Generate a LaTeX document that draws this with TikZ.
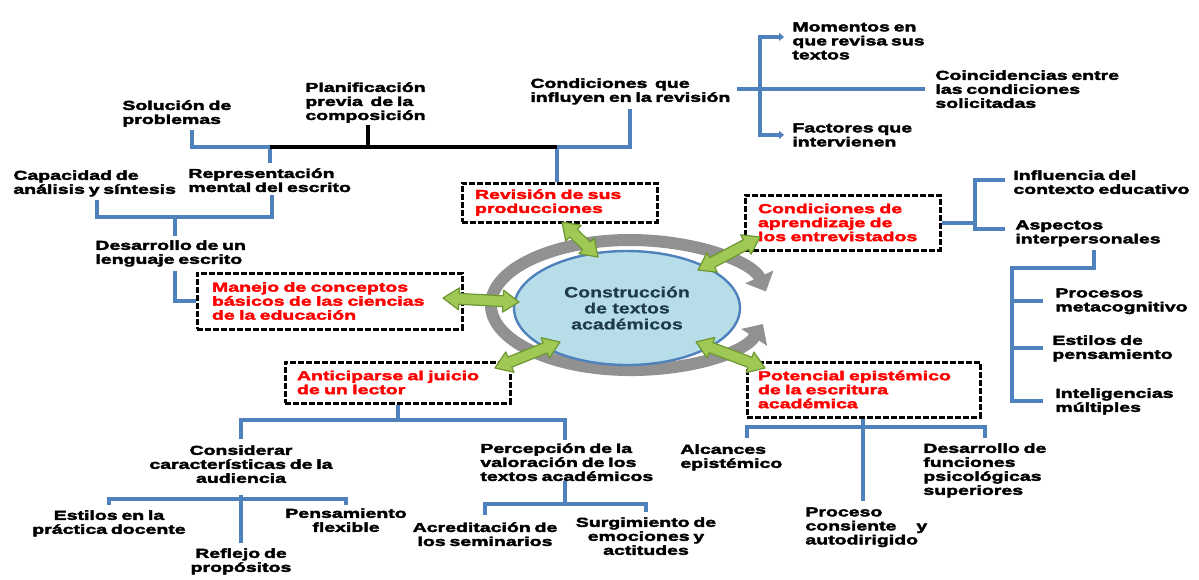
\documentclass[tikz,border=0pt]{standalone}
\usepackage{fontspec}
\newfontfamily\heavy{Liberation Sans Bold}[FakeStretch=1.5,FakeBold=3,WordSpace=0.7]
\newfontfamily\centerfont{Liberation Sans Bold}[FakeStretch=1.3,FakeBold=0.6]
\usetikzlibrary{calc,arrows.meta,shapes.geometric}
\definecolor{bluel}{RGB}{79,129,189}
\definecolor{ellfill}{RGB}{183,222,232}
\definecolor{gfill}{RGB}{160,200,85}
\definecolor{gdraw}{RGB}{110,150,50}
\definecolor{ringc}{RGB}{145,145,145}
\definecolor{ctext}{RGB}{31,58,74}
\newcommand\garr[2]{%
  \path[garrow] (#1)
   -- ($(#1)!8pt!(#2)!5.5pt!90:(#2)$) -- ($(#1)!8pt!(#2)!2.7pt!90:(#2)$)
   -- ($(#2)!8pt!(#1)!2.7pt!-90:(#1)$) -- ($(#2)!8pt!(#1)!5.5pt!-90:(#1)$)
   -- (#2)
   -- ($(#2)!8pt!(#1)!5.5pt!90:(#1)$) -- ($(#2)!8pt!(#1)!2.7pt!90:(#1)$)
   -- ($(#1)!8pt!(#2)!2.7pt!-90:(#2)$) -- ($(#1)!8pt!(#2)!5.5pt!-90:(#2)$)
   -- cycle;}
\tikzset{
  lbl/.style={inner sep=0pt, align=left, anchor=north west, font=\heavy\fontsize{6.5}{7}\selectfont},
  lblc/.style={lbl, align=center, anchor=north},
  redbox/.style={draw=black, line width=1.5pt, dash pattern=on 3pt off 1pt, text=red,
    align=left, inner ysep=0pt, font=\heavy\fontsize{6.5}{7}\selectfont},
  bl/.style={draw=bluel, line width=2pt},
  blk/.style={draw=black, line width=2pt},
  stub/.style={bl, -{Triangle[length=2.5pt,width=4pt]}},
  garrow/.style={fill=gfill, draw=gdraw, line width=0.6pt, line join=round},
  ringarc/.style={draw=ringc, line width=6pt, -{Triangle[length=8pt,width=15pt]}},
  centre/.style={ellipse, draw=bluel, line width=1.2pt, fill=ellfill, minimum width=113pt,
    minimum height=57pt, inner sep=0pt, align=center, text=ctext,
    font=\centerfont\fontsize{7.5}{8}\selectfont}
}
\begin{document}
\begin{tikzpicture}[x=0.5pt,y=-0.5pt]
\fill[white] (0,0) rectangle (1199,579);
\useasboundingbox (0,0) rectangle (1199,579);

% ---------- text nodes ----------
\node[lbl] (plan) at (305,82) {Planificación\\previa\ \ de la\\composición};
\node[lbl] (sol) at (122,100) {Solución de\\problemas};
\node[lbl] (cond) at (530,78) {Condiciones\ \ que\\influyen en la revisión};
\node[lbl] (mom) at (792,22) {Momentos en\\que revisa sus\\textos};
\node[lbl] (coin) at (935,70) {Coincidencias entre\\las condiciones\\solicitadas};
\node[lbl] (fact) at (792,123) {Factores que\\intervienen};
\node[lbl] (cap) at (13,170) {Capacidad de\\análisis y síntesis};
\node[lbl] (rep) at (188,168) {Representación\\mental del escrito};
\node[lbl] (des) at (95,240) {Desarrollo de un\\lenguaje escrito};
\node[lbl] (inf) at (1013,170) {Influencia del\\contexto educativo};
\node[lbl] (asp) at (1015,220) {Aspectos\\interpersonales};
\node[lbl] (proc) at (1055,288) {Procesos\\metacognitivo};
\node[lbl] (est) at (1052,335) {Estilos de\\pensamiento};
\node[lbl] (int) at (1055,388) {Inteligencias\\múltiples};
\node[lblc] (consid) at (241,445) {Considerar\\características de la\\audiencia};
\node[lbl] (perc) at (480,443) {Percepción de la\\valoración de los\\textos académicos};
\node[lbl] (alc) at (680,444) {Alcances\\epistémico};
\node[lbl] (desf) at (923,443) {Desarrollo de\\funciones\\psicológicas\\superiores};
\node[lblc] (estp) at (109,510) {Estilos en la\\práctica docente};
\node[lblc] (pens) at (346,508) {Pensamiento\\flexible};
\node[lblc] (refl) at (241,548) {Reflejo de\\propósitos};
\node[lblc] (acr) at (485,522) {Acreditación de\\los seminarios};
\node[lblc] (surg) at (646,517) {Surgimiento de\\emociones y\\actitudes};
\node[lbl] (proc2) at (805,507) {Proceso\\consiente\hspace{10pt}y\\autodirigido};

% ---------- red dashed boxes ----------
\node[redbox, minimum width=97.5pt, minimum height=19.5pt, inner xsep=6.5pt, text width=84.5pt]
  (rev) at (559.5,202.5) {Revisión de sus\\producciones};
\node[redbox, minimum width=97.5pt, minimum height=27.5pt, inner xsep=6.5pt, text width=84.5pt]
  (apr) at (842.5,222.5) {Condiciones de\\aprendizaje de\\los entrevistados};
\node[redbox, minimum width=132.5pt, minimum height=28pt, inner xsep=7.5pt, text width=117.5pt]
  (man) at (329.5,301) {Manejo de conceptos\\básicos de las ciencias\\de la educación};
\node[redbox, minimum width=112.5pt, minimum height=20.5pt, inner xsep=6pt, text width=100.5pt]
  (ant) at (397.5,382.5) {Anticiparse al juicio\\de un lector};
\node[redbox, minimum width=116.5pt, minimum height=27.5pt, inner xsep=5.5pt, text width=105.5pt]
  (pot) at (863.5,389.5) {Potencial epistémico\\de la escritura\\académica};

% ---------- cycle ring ----------
\coordinate (rc) at (630,305);
\draw[ringarc] ($(rc)+(182:139 and 65)$) arc[start angle=182, end angle=348, x radius=139, y radius=65];
\draw[ringarc] ($(rc)+(190:139 and 65)$) arc[start angle=190, end angle=17, x radius=139, y radius=65];

\node[centre] (ell) at (627,308) {Construcción\\de textos\\académicos};

% ---------- green double arrows ----------
\coordinate (g1a) at (562,222); \coordinate (g1b) at (598,257);
\coordinate (g2a) at (698,270); \coordinate (g2b) at (760,237);
\coordinate (g3a) at (443,298); \coordinate (g3b) at (519,302);
\coordinate (g4a) at (495,368); \coordinate (g4b) at (560,342);
\coordinate (g5a) at (696,342); \coordinate (g5b) at (765,368);
\garr{g1a}{g1b}
\garr{g2a}{g2b}
\garr{g3a}{g3b}
\garr{g4a}{g4b}
\garr{g5a}{g5b}

% ---------- connectors ----------
\coordinate (jl) at (270,147);
\coordinate (jr) at (557,147);
\coordinate (jb) at (368,147);
\coordinate (s1) at (192,147);
\coordinate (c1) at (630,147);
\draw[bl] ($(sol.south -| s1)+(0,3)$) -- (s1) -- (jl) -- ($(rep.north -| jl)+(0,-5)$);
\draw[bl] (rev.north -| jr) -- (jr) -- (c1) -- ($(cond.south -| c1)+(0,4)$);
\draw[blk] (jl) -- (jr);
\draw[blk] ($(plan.south -| jb)+(0,2)$) -- (jb);

\coordinate (b1) at (760,89);
\draw[bl] (737,89) -- ($(coin.west |- b1)+(-10,0)$);
\draw[stub] (b1) |- ($(mom.west)+(-8,-4)$);
\draw[stub] (b1) |- ($(fact.west)+(-8,0)$);

\coordinate (b2) at (975,223);
\draw[bl] (apr.east |- b2) -- (b2);
\draw[bl] ($(inf.west)+(-8,-2)$) -| (b2) |- ($(asp.west)+(-10,-4)$);

\coordinate (b3) at (1012,268);
\draw[bl] ($(asp.south)+(6,4)$) |- (b3) |- ($(int.west)+(-12,0)$);
\draw[bl] (b3 |- proc.west) -- ($(proc.west)+(-12,0)$);
\draw[bl] (b3 |- est.west) -- ($(est.west)+(-9,0)$);

\coordinate (b4l) at (97,217);
\coordinate (b4r) at (272,217);
\coordinate (b4) at (175,217);
\draw[bl] ($(b4l |- cap.south)+(0,3)$) -- (b4l) -- (b4r) -- ($(b4r |- rep.south)+(0,3)$);
\draw[bl] (b4) -- ($(b4 |- des.north)+(0,-4)$);

\coordinate (d1) at (175,301);
\draw[bl] ($(d1 |- des.south)+(0,4)$) -- (d1) -- (man.west);

\coordinate (a1) at (397.5,420);
\coordinate (a2) at (241,420);
\coordinate (a3) at (565,420);
\draw[bl] (ant.south) -- (a1);
\draw[bl] ($(consid.north)+(0,-6)$) -- (a2) -- (a3) -- ($(perc.north -| a3)+(0,-3)$);

\coordinate (c2m) at (241,499);
\draw[bl] ($(estp.north)+(0,-5)$) |- ($(pens.north)+(0,-9)$) -- ($(pens.north)+(0,-3)$);
\draw[bl] ($(c2m)+(0,-4)$) -- ($(refl.north)+(0,-5)$);

\coordinate (p1) at (565,504);
\draw[bl] (p1 |- perc.south) -- (p1);
\draw[bl] ($(acr.north)+(0,-7)$) |- ($(surg.north)+(0,-13)$) -- ($(surg.north)+(0,-5)$);

\coordinate (q1) at (747,427);
\coordinate (q2) at (985,427);
\coordinate (q3) at (863,427);
\draw[bl] ($(q1)+(0,11)$) -- (q1) -- (q2) -- ($(q2)+(0,11)$);
\draw[bl] (pot.south -| q3) -- ($(proc2.north -| q3)+(0,-6)$);
\end{tikzpicture}
\end{document}
